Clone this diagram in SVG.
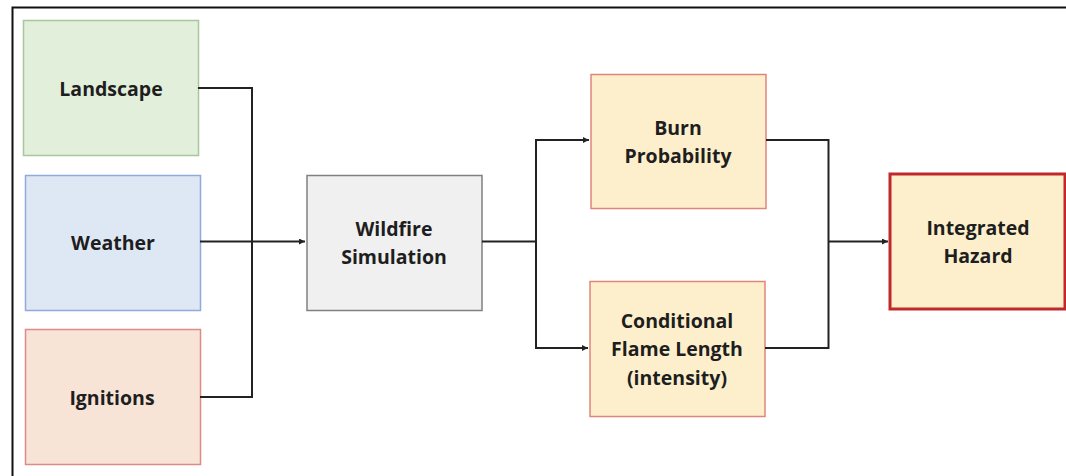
<svg xmlns="http://www.w3.org/2000/svg" width="1066" height="476" viewBox="0 0 1066 476">
<style>
.t{font-family:"Open Sans","Noto Sans","Liberation Sans",sans-serif;font-weight:bold;font-size:19.5px;fill:#1e1e1e;text-anchor:middle;dominant-baseline:central}
.c{fill:none;stroke:#222;stroke-width:2}
</style>
<defs>
<marker id="ah" viewBox="0 0 10 10" refX="10" refY="5" markerWidth="6" markerHeight="6" orient="auto" markerUnits="userSpaceOnUse">
<path d="M0,0 L10,5 L0,10 z" fill="#222"/>
</marker>
</defs>
<rect x="0" y="0" width="1066" height="476" fill="#fff"/>
<path d="M12.5,476 V7.5 H1066" fill="none" stroke="#111" stroke-width="2"/>
<g id="landscape">
<rect x="23.5" y="20.5" width="175" height="135" fill="#e2efda" stroke="#a9c79b" stroke-width="1.5"/>
<text class="t" x="111" y="88">Landscape</text>
</g>
<g id="weather">
<rect x="25.5" y="175.5" width="175" height="135" fill="#dee8f5" stroke="#8faadc" stroke-width="1.5"/>
<text class="t" x="113" y="242">Weather</text>
</g>
<g id="ignitions">
<rect x="25.5" y="329.5" width="175" height="135" fill="#f8e4d6" stroke="#e08a86" stroke-width="1.5"/>
<text class="t" x="112" y="397">Ignitions</text>
</g>
<g id="wildfire">
<rect x="307" y="175.5" width="175" height="135" fill="#f0f0f0" stroke="#808080" stroke-width="1.5"/>
<text class="t" x="394" y="228">Wildfire</text>
<text class="t" x="394" y="256">Simulation</text>
</g>
<g id="burn">
<rect x="591" y="74.5" width="175" height="134" fill="#fdefcc" stroke="#e0857c" stroke-width="1.5"/>
<text class="t" x="678" y="127">Burn</text>
<text class="t" x="678" y="155">Probability</text>
</g>
<g id="flame">
<rect x="590" y="281.5" width="175" height="135" fill="#fdefcc" stroke="#e0857c" stroke-width="1.5"/>
<text class="t" x="677" y="320">Conditional</text>
<text class="t" x="677" y="348">Flame Length</text>
<text class="t" x="677" y="377">(intensity)</text>
</g>
<g id="hazard">
<rect x="890" y="174" width="175" height="135" fill="#fdefcc" stroke="#c0282a" stroke-width="3"/>
<text class="t" x="978" y="227">Integrated</text>
<text class="t" x="978" y="255">Hazard</text>
</g>
<g id="connectors">
<path class="c" d="M198,88 H252 V397 H200"/>
<path class="c" d="M200,241.5 H305" marker-end="url(#ah)"/>
<path class="c" d="M482,241.5 H536 V140 H589" marker-end="url(#ah)"/>
<path class="c" d="M536,241.5 V348 H588" marker-end="url(#ah)"/>
<path class="c" d="M766,140 H828.5 V348 H765"/>
<path class="c" d="M828.5,241.5 H888" marker-end="url(#ah)"/>
</g>
</svg>
